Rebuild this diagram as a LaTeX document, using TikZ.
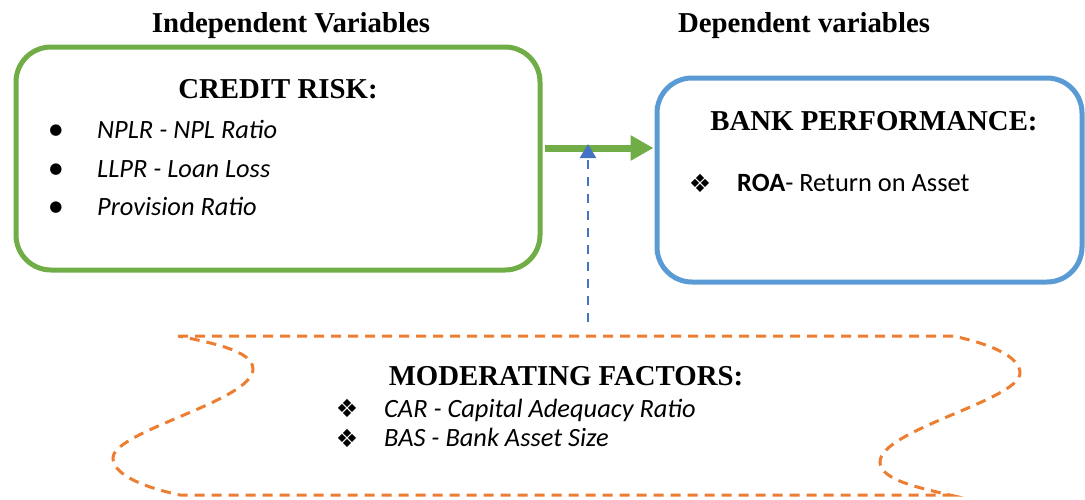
\documentclass[tikz,border=0pt]{standalone}
\usepackage{fontspec}
\setmainfont{Liberation Serif}
\newfontfamily\calfont{Carlito}
\newfontfamily\djfont{DejaVu Sans}
\usetikzlibrary{arrows.meta}
\definecolor{grn}{HTML}{70AD47}
\definecolor{blu}{HTML}{5B9BD5}
\definecolor{org}{HTML}{ED7D31}
\definecolor{dblu}{HTML}{4472C4}
\tikzset{
  head/.style={inner sep=0pt, font=\fontsize{28.8}{34}\selectfont\bfseries, anchor=base},
  body/.style={inner sep=0pt, font=\fontsize{26.4}{31}\selectfont\calfont\itshape, anchor=base west},
  bodyup/.style={inner sep=0pt, font=\fontsize{26.4}{31}\selectfont\calfont, anchor=base west},
  dot/.style={inner sep=0pt, font=\fontsize{15}{18}\selectfont\djfont},
  dia/.style={inner sep=0pt, font=\fontsize{25}{28}\selectfont\djfont},
  roundbox/.style={draw, line width=5pt, rounded corners=35pt, inner sep=0pt},
}
\begin{document}
\begin{tikzpicture}[x=1pt,y=-1pt]
\useasboundingbox (0,0) rectangle (1085,499);
% headings
\node[head] (iv) at (291,32) {Independent Variables};
\node[head] (dv) at (804,32) {Dependent variables};
% credit risk box
\node[roundbox, draw=grn, minimum width=524pt, minimum height=223pt] (cr) at (278,158.5) {};
\node[head] (crt) at (278,98) {CREDIT RISK:};
\node[dot] (b1) at (56,131) {●};
\node[dot] (b2) at (56,170) {●};
\node[dot] (b3) at (56,208) {●};
\node[body] (t1) at (97,138) {NPLR - NPL Ratio};
\node[body] (t2) at (97,177) {LLPR - Loan Loss};
\node[body] (t3) at (97,215) {Provision Ratio};
% bank performance box
\node[roundbox, draw=blu, minimum width=425pt, minimum height=204pt] (bp) at (869.5,180) {};
\node[head] (bpt) at (874,130) {BANK PERFORMANCE:};
\node[dia] (d0) at (700,183) {❖};
\node[bodyup] (roa) at (737,191) {\textbf{ROA}- Return on Asset};
% green arrow
\coordinate (gs) at ([yshift=10.5pt]cr.east);
\coordinate (ge) at (gs -| bp.west);
\draw[grn, line width=7pt, -{Triangle[length=23pt,width=24pt]}] ([xshift=2.5pt]gs) -- ([xshift=-1pt]ge);
% moderating shape
\draw[org, line width=3pt, dash pattern=on 10pt off 7pt]
  (178,336) -- (953,336)
  .. controls (995,345) and (1020,358) .. (1020,373)
  .. controls (1020,400) and (880,430) .. (880,462)
  .. controls (880,480) and (920,488) .. (950,495)
  -- (180,495)
  .. controls (138,486) and (113,473) .. (113,458)
  .. controls (113,431) and (253,401) .. (253,369)
  .. controls (253,351) and (213,343) .. (178,336) -- cycle;
\node[head] (mft) at (566,385) {MODERATING FACTORS:};
\node[dia] (d1) at (347,408) {❖};
\node[dia] (d2) at (347,438) {❖};
\node[body] (m1) at (384,417) {CAR - Capital Adequacy Ratio};
\node[body] (m2) at (384,446) {BAS - Bank Asset Size};
% blue dashed arrow
\coordinate (mtop) at (588,322);
\coordinate (atip) at (588,144);
\draw[dblu, line width=2.5pt, dash pattern=on 9pt off 8pt, -{Triangle[length=14pt,width=16pt,sep=0pt]}] (mtop) -- (atip);
\end{tikzpicture}
\end{document}
